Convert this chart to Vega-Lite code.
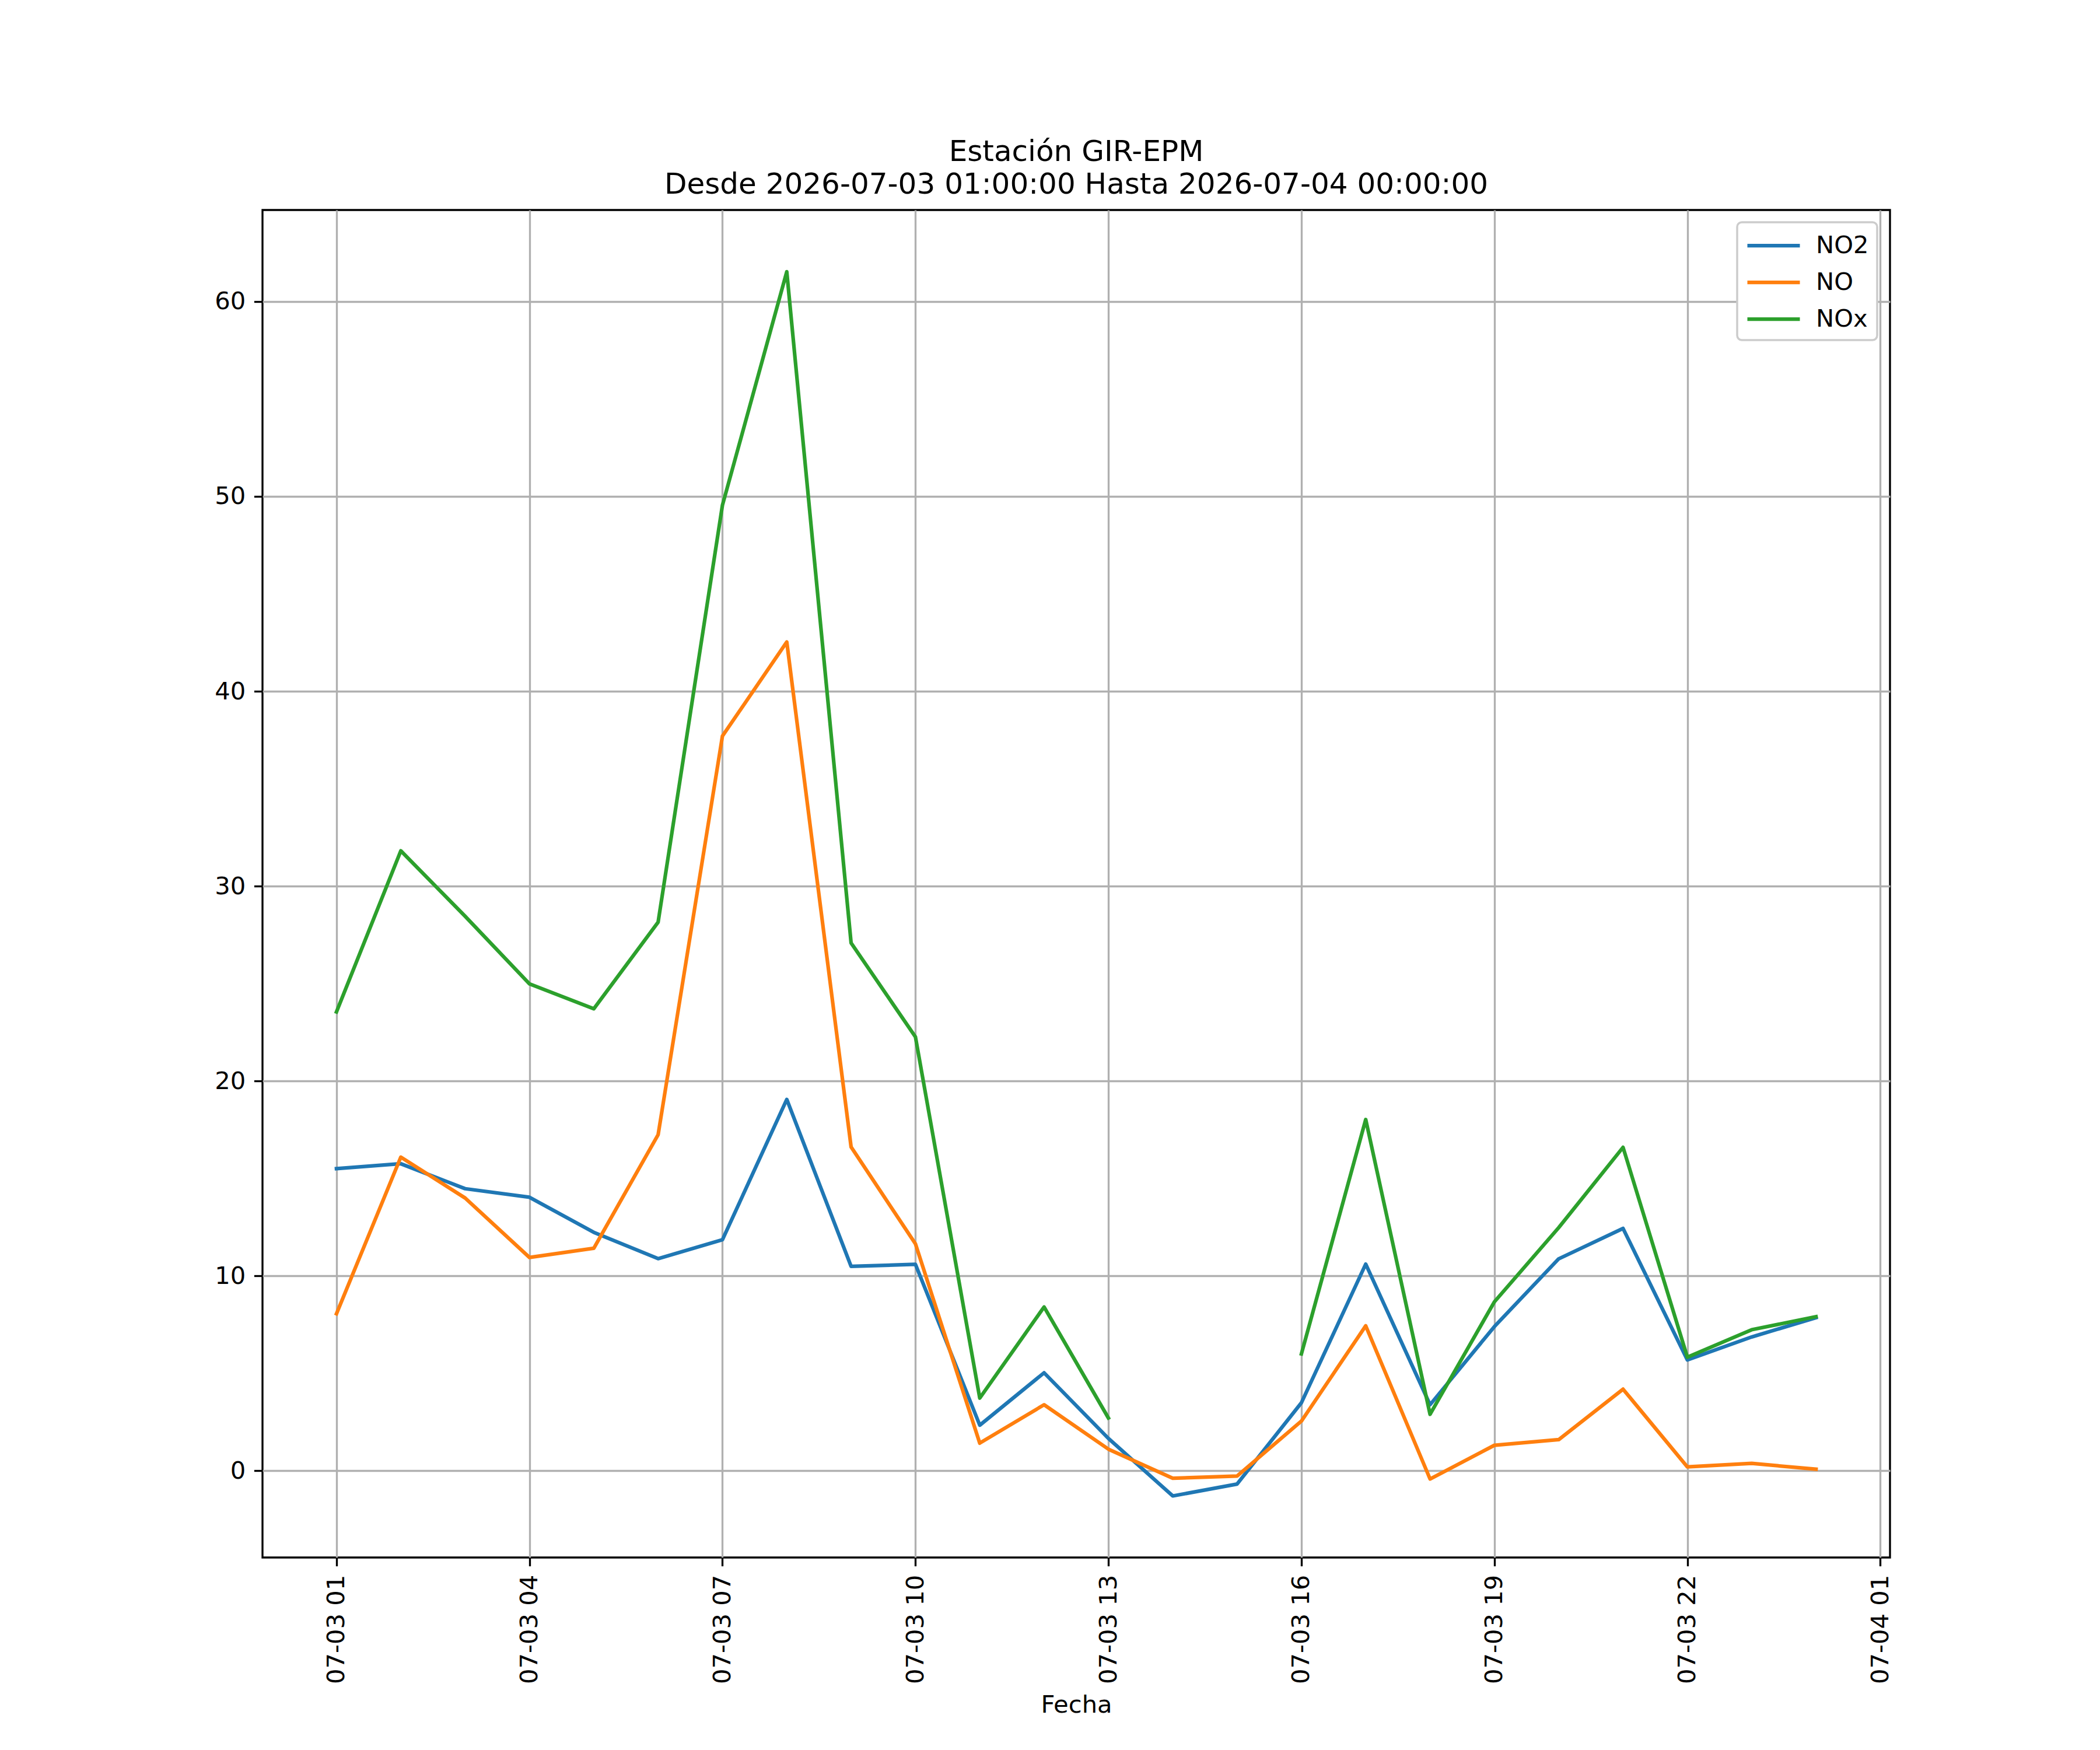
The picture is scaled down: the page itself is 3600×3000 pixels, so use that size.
{
  "$schema": "https://vega.github.io/schema/vega-lite/v6.json",
  "width": 2790,
  "height": 2310,
  "autosize": "none",
  "padding": {"left": 450, "top": 360, "right": 360, "bottom": 330},
  "background": "white",
  "title": {
    "text": ["Estación GIR-EPM", "Desde 2026-07-03 01:00:00 Hasta 2026-07-04 00:00:00"],
    "font": "DejaVu Sans",
    "fontSize": 50,
    "fontWeight": "normal",
    "color": "black",
    "lineHeight": 56,
    "anchor": "middle",
    "offset": 18
  },
  "config": {
    "view": {"stroke": "black", "strokeWidth": 3.33},
    "axis": {
      "domain": false,
      "grid": true,
      "gridColor": "#b0b0b0",
      "gridWidth": 3.33,
      "ticks": true,
      "tickColor": "black",
      "tickWidth": 3.33,
      "tickSize": 14.6,
      "labelFont": "DejaVu Sans",
      "labelFontSize": 41.67,
      "labelColor": "black",
      "labelPadding": 14.6,
      "labelFlush": false,
      "labelOverlap": false,
      "labelLimit": 0,
      "titleFont": "DejaVu Sans",
      "titleFontSize": 41.67,
      "titleFontWeight": "normal",
      "titleColor": "black"
    },
    "legend": {
      "labelFont": "DejaVu Sans",
      "labelFontSize": 41.67,
      "labelColor": "black"
    }
  },
  "data": {
    "values": [
      {"fecha": "2026-07-03T01:00:00", "contaminante": "NO2", "valor": 15.50},
      {"fecha": "2026-07-03T02:00:00", "contaminante": "NO2", "valor": 15.75},
      {"fecha": "2026-07-03T03:00:00", "contaminante": "NO2", "valor": 14.47},
      {"fecha": "2026-07-03T04:00:00", "contaminante": "NO2", "valor": 14.03},
      {"fecha": "2026-07-03T05:00:00", "contaminante": "NO2", "valor": 12.23},
      {"fecha": "2026-07-03T06:00:00", "contaminante": "NO2", "valor": 10.88},
      {"fecha": "2026-07-03T07:00:00", "contaminante": "NO2", "valor": 11.85},
      {"fecha": "2026-07-03T08:00:00", "contaminante": "NO2", "valor": 19.05},
      {"fecha": "2026-07-03T09:00:00", "contaminante": "NO2", "valor": 10.48},
      {"fecha": "2026-07-03T10:00:00", "contaminante": "NO2", "valor": 10.59},
      {"fecha": "2026-07-03T11:00:00", "contaminante": "NO2", "valor": 2.33},
      {"fecha": "2026-07-03T12:00:00", "contaminante": "NO2", "valor": 5.02},
      {"fecha": "2026-07-03T13:00:00", "contaminante": "NO2", "valor": 1.65},
      {"fecha": "2026-07-03T14:00:00", "contaminante": "NO2", "valor": -1.30},
      {"fecha": "2026-07-03T15:00:00", "contaminante": "NO2", "valor": -0.69},
      {"fecha": "2026-07-03T16:00:00", "contaminante": "NO2", "valor": 3.48},
      {"fecha": "2026-07-03T17:00:00", "contaminante": "NO2", "valor": 10.60},
      {"fecha": "2026-07-03T18:00:00", "contaminante": "NO2", "valor": 3.38},
      {"fecha": "2026-07-03T19:00:00", "contaminante": "NO2", "valor": 7.39},
      {"fecha": "2026-07-03T20:00:00", "contaminante": "NO2", "valor": 10.87},
      {"fecha": "2026-07-03T21:00:00", "contaminante": "NO2", "valor": 12.43},
      {"fecha": "2026-07-03T22:00:00", "contaminante": "NO2", "valor": 5.68},
      {"fecha": "2026-07-03T23:00:00", "contaminante": "NO2", "valor": 6.86},
      {"fecha": "2026-07-04T00:00:00", "contaminante": "NO2", "valor": 7.85},
      {"fecha": "2026-07-03T01:00:00", "contaminante": "NO", "valor": 8.05},
      {"fecha": "2026-07-03T02:00:00", "contaminante": "NO", "valor": 16.09},
      {"fecha": "2026-07-03T03:00:00", "contaminante": "NO", "valor": 13.99},
      {"fecha": "2026-07-03T04:00:00", "contaminante": "NO", "valor": 10.94},
      {"fecha": "2026-07-03T05:00:00", "contaminante": "NO", "valor": 11.41},
      {"fecha": "2026-07-03T06:00:00", "contaminante": "NO", "valor": 17.24},
      {"fecha": "2026-07-03T07:00:00", "contaminante": "NO", "valor": 37.70},
      {"fecha": "2026-07-03T08:00:00", "contaminante": "NO", "valor": 42.53},
      {"fecha": "2026-07-03T09:00:00", "contaminante": "NO", "valor": 16.61},
      {"fecha": "2026-07-03T10:00:00", "contaminante": "NO", "valor": 11.64},
      {"fecha": "2026-07-03T11:00:00", "contaminante": "NO", "valor": 1.41},
      {"fecha": "2026-07-03T12:00:00", "contaminante": "NO", "valor": 3.38},
      {"fecha": "2026-07-03T13:00:00", "contaminante": "NO", "valor": 1.10},
      {"fecha": "2026-07-03T14:00:00", "contaminante": "NO", "valor": -0.39},
      {"fecha": "2026-07-03T15:00:00", "contaminante": "NO", "valor": -0.28},
      {"fecha": "2026-07-03T16:00:00", "contaminante": "NO", "valor": 2.54},
      {"fecha": "2026-07-03T17:00:00", "contaminante": "NO", "valor": 7.43},
      {"fecha": "2026-07-03T18:00:00", "contaminante": "NO", "valor": -0.43},
      {"fecha": "2026-07-03T19:00:00", "contaminante": "NO", "valor": 1.30},
      {"fecha": "2026-07-03T20:00:00", "contaminante": "NO", "valor": 1.59},
      {"fecha": "2026-07-03T21:00:00", "contaminante": "NO", "valor": 4.18},
      {"fecha": "2026-07-03T22:00:00", "contaminante": "NO", "valor": 0.19},
      {"fecha": "2026-07-03T23:00:00", "contaminante": "NO", "valor": 0.37},
      {"fecha": "2026-07-04T00:00:00", "contaminante": "NO", "valor": 0.07},
      {"fecha": "2026-07-03T01:00:00", "contaminante": "NOx", "valor": 23.54},
      {"fecha": "2026-07-03T02:00:00", "contaminante": "NOx", "valor": 31.81},
      {"fecha": "2026-07-03T03:00:00", "contaminante": "NOx", "valor": 28.45},
      {"fecha": "2026-07-03T04:00:00", "contaminante": "NOx", "valor": 24.98},
      {"fecha": "2026-07-03T05:00:00", "contaminante": "NOx", "valor": 23.70},
      {"fecha": "2026-07-03T06:00:00", "contaminante": "NOx", "valor": 28.15},
      {"fecha": "2026-07-03T07:00:00", "contaminante": "NOx", "valor": 49.55},
      {"fecha": "2026-07-03T08:00:00", "contaminante": "NOx", "valor": 61.53},
      {"fecha": "2026-07-03T09:00:00", "contaminante": "NOx", "valor": 27.08},
      {"fecha": "2026-07-03T10:00:00", "contaminante": "NOx", "valor": 22.26},
      {"fecha": "2026-07-03T11:00:00", "contaminante": "NOx", "valor": 3.72},
      {"fecha": "2026-07-03T12:00:00", "contaminante": "NOx", "valor": 8.40},
      {"fecha": "2026-07-03T13:00:00", "contaminante": "NOx", "valor": 2.70},
      {"fecha": "2026-07-03T14:00:00", "contaminante": "NOx", "valor": null},
      {"fecha": "2026-07-03T15:00:00", "contaminante": "NOx", "valor": null},
      {"fecha": "2026-07-03T16:00:00", "contaminante": "NOx", "valor": 5.99},
      {"fecha": "2026-07-03T17:00:00", "contaminante": "NOx", "valor": 18.02},
      {"fecha": "2026-07-03T18:00:00", "contaminante": "NOx", "valor": 2.89},
      {"fecha": "2026-07-03T19:00:00", "contaminante": "NOx", "valor": 8.66},
      {"fecha": "2026-07-03T20:00:00", "contaminante": "NOx", "valor": 12.47},
      {"fecha": "2026-07-03T21:00:00", "contaminante": "NOx", "valor": 16.59},
      {"fecha": "2026-07-03T22:00:00", "contaminante": "NOx", "valor": 5.82},
      {"fecha": "2026-07-03T23:00:00", "contaminante": "NOx", "valor": 7.23},
      {"fecha": "2026-07-04T00:00:00", "contaminante": "NOx", "valor": 7.90}
    ]
  },
  "mark": {
    "type": "line",
    "strokeWidth": 6.25,
    "strokeJoin": "round",
    "strokeCap": "square",
    "invalid": "break-paths-show-domains"
  },
  "encoding": {
    "x": {
      "field": "fecha",
      "type": "temporal",
      "title": "Fecha",
      "scale": {
        "domain": [
          {"year": 2026, "month": 7, "date": 2, "hours": 23, "minutes": 51},
          {"year": 2026, "month": 7, "date": 4, "hours": 1, "minutes": 9}
        ],
        "nice": false
      },
      "axis": {
        "values": [
          {"year": 2026, "month": 7, "date": 3, "hours": 1},
          {"year": 2026, "month": 7, "date": 3, "hours": 4},
          {"year": 2026, "month": 7, "date": 3, "hours": 7},
          {"year": 2026, "month": 7, "date": 3, "hours": 10},
          {"year": 2026, "month": 7, "date": 3, "hours": 13},
          {"year": 2026, "month": 7, "date": 3, "hours": 16},
          {"year": 2026, "month": 7, "date": 3, "hours": 19},
          {"year": 2026, "month": 7, "date": 3, "hours": 22},
          {"year": 2026, "month": 7, "date": 4, "hours": 1}
        ],
        "format": "%m-%d %H",
        "labelAngle": 270,
        "titlePadding": 32
      }
    },
    "y": {
      "field": "valor",
      "type": "quantitative",
      "title": null,
      "scale": {"domain": [-4.46, 64.7], "nice": false, "zero": false},
      "axis": {"values": [0, 10, 20, 30, 40, 50, 60]}
    },
    "color": {
      "field": "contaminante",
      "type": "nominal",
      "scale": {
        "domain": ["NO2", "NO", "NOx"],
        "range": ["#1f77b4", "#ff7f0e", "#2ca02c"]
      },
      "legend": {
        "title": null,
        "orient": "none",
        "legendX": 2528,
        "legendY": 21,
        "symbolType": "M-1,0H3",
        "symbolSize": 2025,
        "symbolStrokeWidth": 6.25,
        "labelOffset": 69,
        "rowPadding": 15,
        "padding": 14,
        "fillColor": "white",
        "strokeColor": "#cccccc",
        "cornerRadius": 8,
        "encode": {
          "legend": {"update": {"strokeWidth": {"value": 3.5}}}
        }
      }
    }
  }
}
